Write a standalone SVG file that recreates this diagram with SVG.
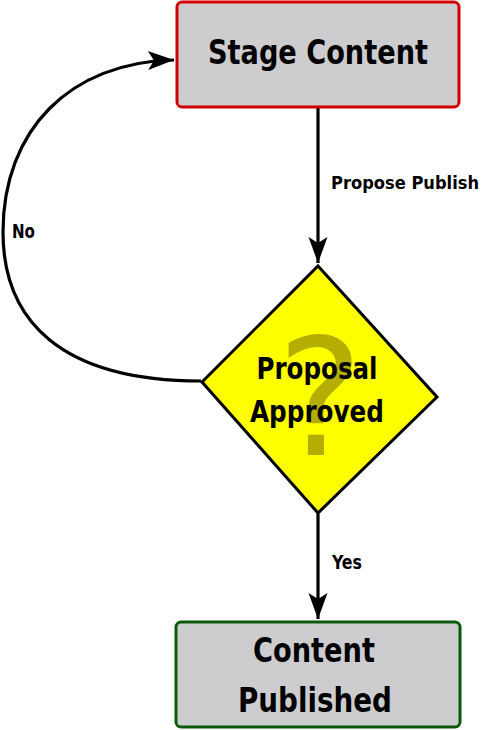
<svg xmlns="http://www.w3.org/2000/svg" width="482" height="730" viewBox="0 0 482 730">
<defs>
<style>
.box{fill:#cdcdd0;stroke-width:3}
.t{font-family:"DejaVu Sans Condensed","DejaVu Sans",sans-serif;font-weight:bold;fill:#000;text-anchor:middle}
.big{font-size:33px}
.lbl{font-size:19px;text-anchor:start}
.edge{fill:none;stroke:#000;stroke-width:3.2}
</style>
<marker id="ah" markerUnits="userSpaceOnUse" markerWidth="30" markerHeight="22" viewBox="-27 -11 29 22" refX="0" refY="0" orient="auto">
<path d="M0,0 L-26,-9.5 L-20,0 L-26,9.5 Z" fill="#000"/>
</marker>
</defs>
<g id="edges">
<path class="edge" d="M318,108 L318,263" marker-end="url(#ah)"/>
<path class="edge" d="M318,514 L318,619" marker-end="url(#ah)"/>
<path class="edge" d="M201,381 C60,381 3,320 3,232 C3,130 70,62 174,60" marker-end="url(#ah)"/>
<text class="t lbl" x="331" y="189" font-size="18" style="font-size:18px" textLength="148" lengthAdjust="spacingAndGlyphs">Propose Publish</text>
<text class="t lbl" x="12" y="238" textLength="23" lengthAdjust="spacingAndGlyphs">No</text>
<text class="t lbl" x="332" y="569" textLength="30" lengthAdjust="spacingAndGlyphs">Yes</text>
</g>
<g id="stage">
<rect class="box" x="177" y="2" width="282" height="105" rx="5" stroke="#d40000"/>
<text class="t big" x="318" y="64" textLength="220" lengthAdjust="spacingAndGlyphs">Stage Content</text>
</g>
<g id="decision">
<polygon points="318,266 437,397 318,513 202,382" fill="#ffff00" stroke="#000" stroke-width="3"/>
<text class="t" x="320" y="455" font-size="162" style="fill:#b3ae00;font-family:'DejaVu Sans',sans-serif;font-weight:normal" textLength="86" lengthAdjust="spacingAndGlyphs">?</text>
<text class="t" x="317" y="379" font-size="30" textLength="121" lengthAdjust="spacingAndGlyphs">Proposal</text>
<text class="t" x="317" y="422" font-size="30" textLength="134" lengthAdjust="spacingAndGlyphs">Approved</text>
</g>
<g id="published">
<rect class="box" x="176" y="622" width="284" height="105" rx="5" stroke="#0a5a0a"/>
<text class="t big" x="314" y="662" textLength="122" lengthAdjust="spacingAndGlyphs">Content</text>
<text class="t big" x="315" y="712" textLength="154" lengthAdjust="spacingAndGlyphs">Published</text>
</g>
</svg>
